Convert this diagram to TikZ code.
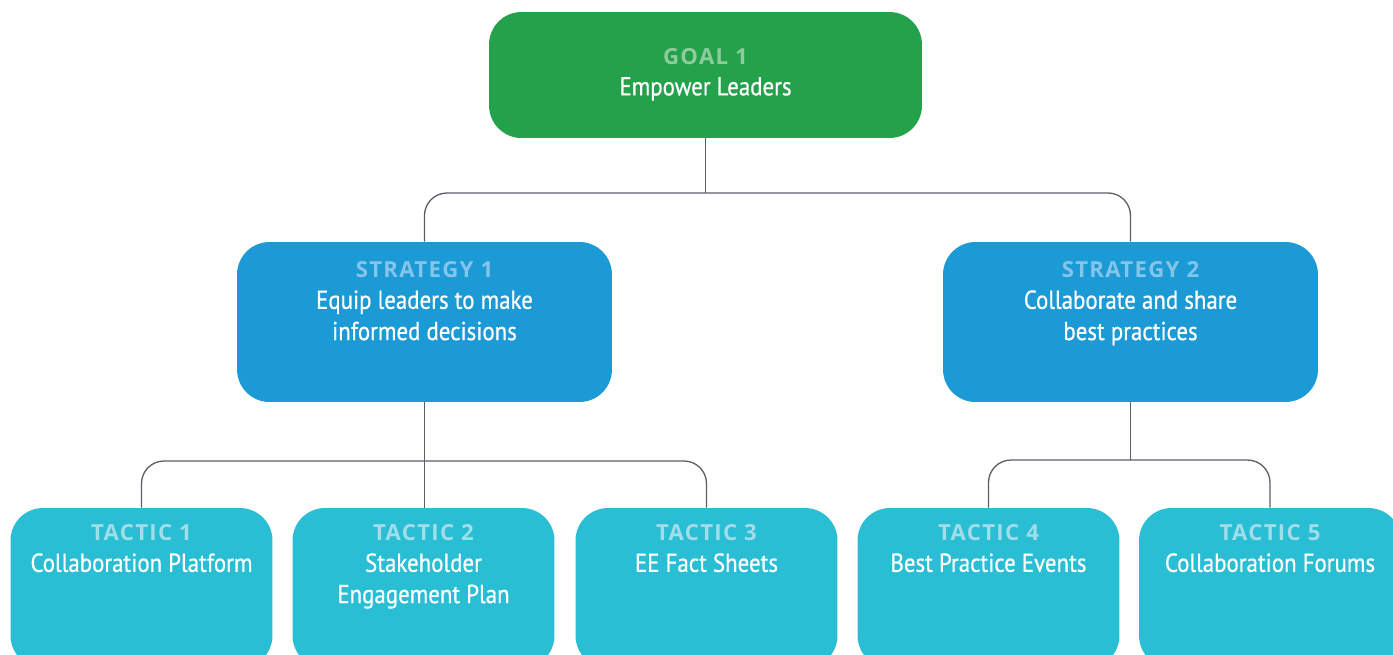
\documentclass[tikz,border=0pt]{standalone}
\usepackage{fontspec}
\setmainfont{PT Sans}[FakeStretch=0.88, FakeBold=0.6]
\newfontfamily\lblfont{Open Sans}[LetterSpace=6]
\usepackage{xcolor}
\usepackage{tikz}
\usetikzlibrary{positioning}
\definecolor{ggreen}{HTML}{23A24B}
\definecolor{ggreenlbl}{HTML}{8FCC9C}
\definecolor{sblue}{HTML}{1C9AD6}
\definecolor{sbluelbl}{HTML}{86C5EA}
\definecolor{tteal}{HTML}{2ABED5}
\definecolor{ttteallbl}{HTML}{A2DEE9}
\definecolor{linegrey}{HTML}{5A5F66}
\tikzstyle{box} = [rectangle, rounded corners=0.65cm, inner sep=0pt]
\tikzstyle{goalbox} = [box, fill=ggreen, minimum width=8.66cm, minimum height=2.52cm]
\tikzstyle{stratbox} = [box, fill=sblue, minimum width=7.5cm, minimum height=3.2cm]
\tikzstyle{tacticbox} = [box, fill=tteal, minimum width=5.24cm, minimum height=3.2cm]
\tikzstyle{boxtext} = [align=center, inner sep=0pt, text=white, font=\fontsize{14.8}{17.8}\selectfont]
\tikzstyle{link} = [draw, line width=0.75pt, color=linegrey, rounded corners=0.45cm]
\newcommand{\boxlabel}[2]{{\lblfont\bfseries\fontsize{12.6}{17.8}\selectfont\color{#1}#2}}

\begin{document}
\begin{tikzpicture}[x=0.02cm, y=-0.02cm]
    \useasboundingbox (0,0) rectangle (1393,654);
    \clip (0,0) rectangle (1393,654);

    % goal
    \node[goalbox] at (705.5, 75) (goal) {};
    \node[boxtext, below=0.72cm of goal.north] (goal-txt) {\boxlabel{ggreenlbl}{GOAL 1}\\ Empower Leaders};

    % strategies
    \node[stratbox] at (424.5, 322) (s1) {};
    \node[stratbox] at (1130.5, 322) (s2) {};
    \node[boxtext, below=0.39cm of s1.north] (s1-txt) {\boxlabel{sbluelbl}{STRATEGY 1}\\ Equip leaders to make\\ informed decisions};
    \node[boxtext, below=0.39cm of s2.north] (s2-txt) {\boxlabel{sbluelbl}{STRATEGY 2}\\ Collaborate and share\\ best practices};

    % tactics
    \node[tacticbox] at (141.5, 588) (t1) {};
    \node[tacticbox] at (423.5, 588) (t2) {};
    \node[tacticbox] at (706.5, 588) (t3) {};
    \node[tacticbox] at (988.5, 588) (t4) {};
    \node[tacticbox] at (1270, 588) (t5) {};
    \node[boxtext, below=0.33cm of t1.north] (t1-txt) {\boxlabel{ttteallbl}{TACTIC 1}\\ Collaboration Platform};
    \node[boxtext, below=0.33cm of t2.north] (t2-txt) {\boxlabel{ttteallbl}{TACTIC 2}\\ Stakeholder\\ Engagement Plan};
    \node[boxtext, below=0.33cm of t3.north] (t3-txt) {\boxlabel{ttteallbl}{TACTIC 3}\\ EE Fact Sheets};
    \node[boxtext, below=0.33cm of t4.north] (t4-txt) {\boxlabel{ttteallbl}{TACTIC 4}\\ Best Practice Events};
    \node[boxtext, below=0.33cm of t5.north] (t5-txt) {\boxlabel{ttteallbl}{TACTIC 5}\\ Collaboration Forums};

    % links
    \coordinate (bus0) at (0, 193);
    \coordinate (bus1) at (0, 461);
    \coordinate (bus2) at (0, 460);
    \path[link] (goal.south) -- (goal.south |- bus0);
    \path[link] (s1.north) -- (s1.north |- bus0) -- (s2.north |- bus0) -- (s2.north);
    \path[link] (s1.south) -- (s1.south |- t2.north);
    \path[link] (t1.north) -- (t1.north |- bus1) -- (t3.north |- bus1) -- (t3.north);
    \path[link] (s2.south) -- (s2.south |- bus2);
    \path[link] (t4.north) -- (t4.north |- bus2) -- (t5.north |- bus2) -- (t5.north);
\end{tikzpicture}
\end{document}
